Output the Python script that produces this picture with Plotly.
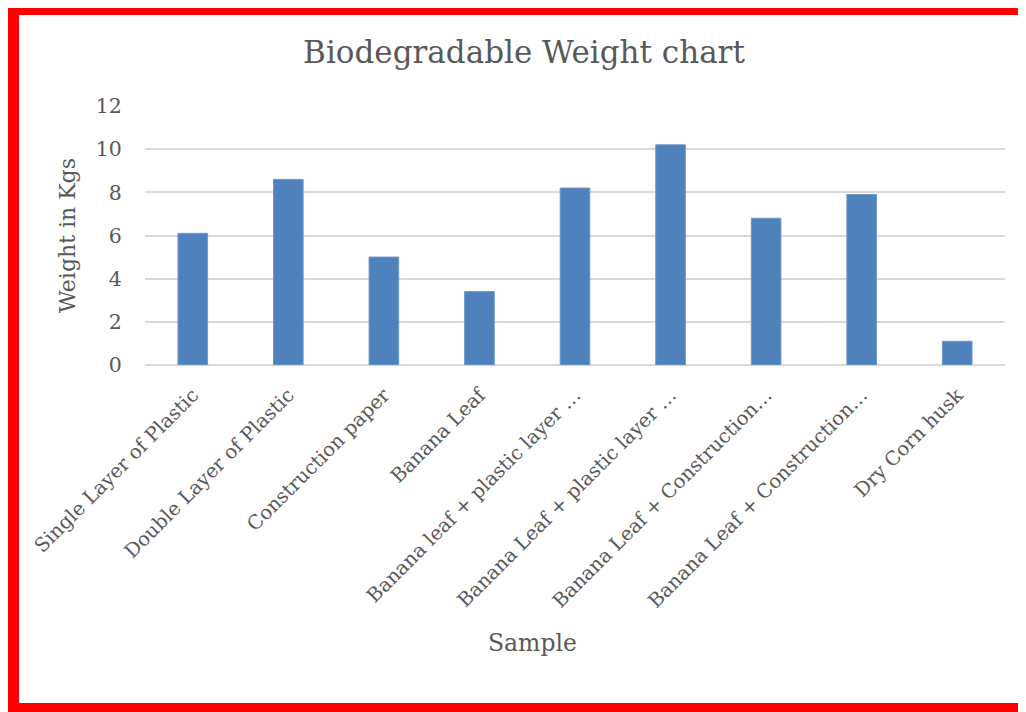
import plotly.graph_objects as go

categories = [
    "Single Layer of Plastic",
    "Double Layer of Plastic",
    "Construction paper",
    "Banana Leaf",
    "Banana leaf + plastic layer …",
    "Banana Leaf + plastic layer …",
    "Banana Leaf + Construction…",
    "Banana Leaf + Construction…",
    "Dry Corn husk",
]
weights = [6.1, 8.6, 5.0, 3.4, 8.2, 10.2, 6.8, 7.9, 1.1]
y_ticks = [0, 2, 4, 6, 8, 10, 12]

# page body has an 8px margin; work in screen pixels and shift
OFF = 8
W, H = 1026 - OFF, 712 - OFF
PL, PR, PT, PB = 145, 1005, 106, 365  # plot area in screen px
L, R, T, B = PL - OFF, W - (PR - OFF), PT - OFF, H - (PB - OFF)
PW, PH = W - L - R, H - T - B

FONT = "DejaVu Serif"
GREY = "#595959"

positions = list(range(len(categories)))

fig = go.Figure(
    go.Bar(
        x=positions,
        y=weights,
        width=0.31,
        marker=dict(color="#4f81bd", line=dict(color="#6f97c9", width=1)),
    )
)


def px_x(p):
    return (p - PL) / PW


def px_y(p):
    return (PB - p) / PH


border = "#ff0000"
shapes = [
    dict(type="rect", xref="paper", yref="paper", x0=px_x(7), x1=px_x(1060), y0=px_y(5), y1=px_y(15),
         fillcolor=border, line=dict(width=0)),
    dict(type="rect", xref="paper", yref="paper", x0=px_x(7), x1=px_x(19), y0=px_y(5), y1=px_y(740),
         fillcolor=border, line=dict(width=0)),
    dict(type="rect", xref="paper", yref="paper", x0=px_x(7), x1=px_x(1060), y0=px_y(703), y1=px_y(740),
         fillcolor=border, line=dict(width=0)),
]

fig.update_layout(
    width=W,
    height=H,
    margin=dict(l=L, r=R, t=T, b=B, pad=0),
    paper_bgcolor="white",
    plot_bgcolor="white",
    showlegend=False,
    font=dict(family=FONT, color=GREY, size=19),
    title=dict(
        text="Biodegradable Weight chart",
        x=(524 - OFF) / W,
        xref="container",
        xanchor="center",
        y=1 - (52 - OFF) / H,
        yref="container",
        yanchor="middle",
        font=dict(family=FONT, size=31, color=GREY),
    ),
    shapes=shapes,
    annotations=[
        dict(text="Sample", xref="paper", yref="paper", x=px_x(532), y=px_y(643),
             xanchor="center", yanchor="middle", showarrow=False,
             font=dict(family=FONT, size=23.5, color=GREY)),
    ],
    xaxis=dict(
        range=[-0.5, len(categories) - 0.5],
        tickmode="array",
        tickvals=positions,
        ticktext=categories,
        tickangle=-45,
        showgrid=False,
        showline=False,
        zeroline=False,
        ticks="outside",
        ticklen=10,
        tickcolor="rgba(0,0,0,0)",
        tickfont=dict(family=FONT, size=19.5, color=GREY),
    ),
    yaxis=dict(
        range=[0, 12],
        tickmode="array",
        tickvals=y_ticks,
        showgrid=True,
        gridcolor="#d9d9d9",
        gridwidth=1.5,
        zeroline=True,
        zerolinecolor="#d9d9d9",
        zerolinewidth=1.5,
        showline=False,
        ticks="outside",
        ticklen=18,
        tickcolor="rgba(0,0,0,0)",
        tickfont=dict(family=FONT, size=20.5, color=GREY),
        title=dict(text="Weight in Kgs", standoff=14, font=dict(family=FONT, size=22, color=GREY)),
    ),
)

fig.write_html("out.html")
